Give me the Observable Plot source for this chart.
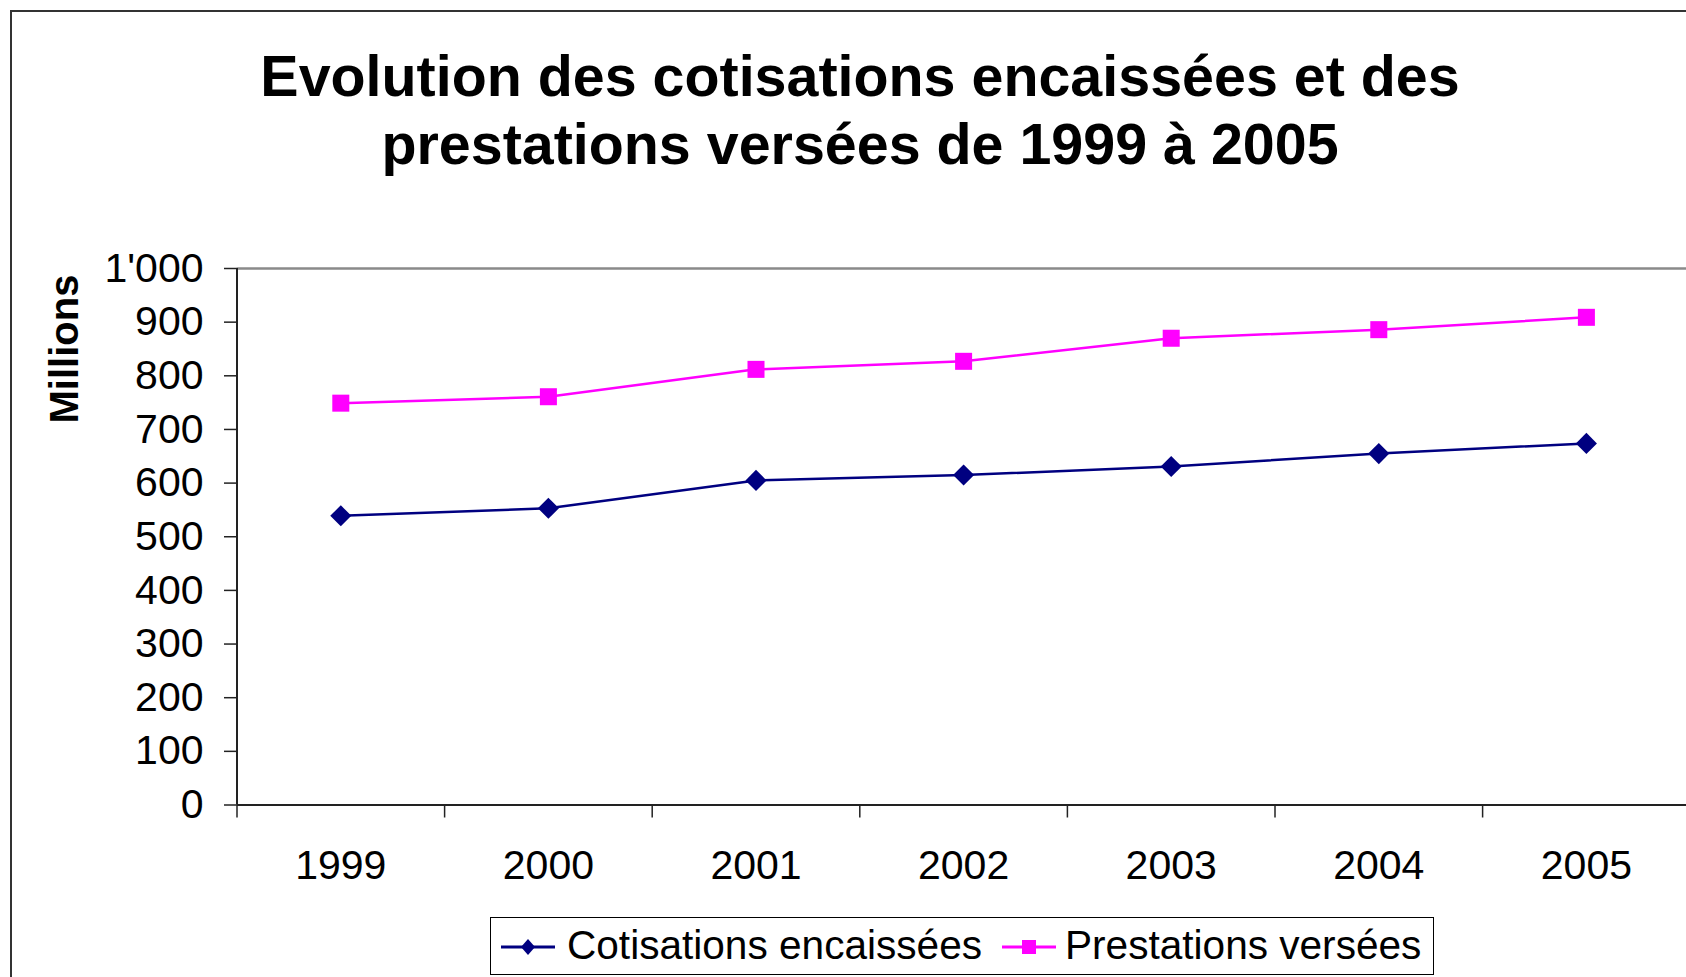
<!DOCTYPE html>
<html>
<head>
<meta charset="utf-8">
<script src="https://cdn.jsdelivr.net/npm/d3@7"></script>
<script src="https://cdn.jsdelivr.net/npm/@observablehq/plot@0.6"></script>
<style>
  html, body { margin: 0; padding: 0; background: #fff; overflow: hidden; }
  body { width: 1686px; height: 977px; position: relative; font-family: "Liberation Sans", Arial, sans-serif; }
  #frame { position: absolute; left: 10px; top: 10px; width: 1800px; height: 1100px; border-left: 2px solid #333; border-top: 2px solid #333; box-sizing: border-box; z-index: 5; pointer-events: none; }
  #chart { position: absolute; left: 0; top: 0; }
  #chart svg { overflow: hidden; }
  #title { position: absolute; left: 0; top: 42px; width: 1720px; text-align: center; font-weight: bold; font-size: 57.4px; line-height: 68px; color: #000; }
  #ylabel { position: absolute; left: 64px; top: 349px; transform: translate(-50%, -50%) rotate(-90deg); font-weight: bold; font-size: 40px; white-space: nowrap; color: #000; }
  #legend { position: absolute; left: 490px; top: 917px; width: 944px; height: 58px; border: 1.5px solid #000; box-sizing: border-box; background: #fff; }
  .item { position: absolute; top: 0; height: 55px; line-height: 55px; font-size: 40.6px; color: #000; white-space: nowrap; }
  .sw { position: absolute; top: 0; }
</style>
</head>
<body>
<div id="frame"></div>
<div id="chart"></div>
<div id="title">Evolution des cotisations encaissées et des<br>prestations versées de 1999 à 2005</div>
<div id="ylabel">Millions</div>
<div id="legend"></div>
<script>
const years = ["1999", "2000", "2001", "2002", "2003", "2004", "2005"];
const cotisations = [539, 553, 605, 615, 631, 655, 674];
const prestations = [749, 761, 812, 827, 870, 886, 909];
const yTicks = [0, 100, 200, 300, 400, 500, 600, 700, 800, 900, 1000];
const yTickLabels = ["0", "100", "200", "300", "400", "500", "600", "700", "800", "900", "1'000"];
const seriesNames = ["Cotisations encaissées", "Prestations versées"];
const seriesColors = ["#000080", "#ff00ff"];

const rows = years.map((year, i) => ({i, year, cot: cotisations[i], pre: prestations[i]}));
const xc = d => d.i + 0.5;

const chart = Plot.plot({
  width: 1686,
  height: 977,
  marginLeft: 236.5,
  marginTop: 268,
  marginBottom: 172.5,
  marginRight: 0,
  x: {domain: [0, years.length], range: [236.5, 236.5 + 207.6 * years.length]},
  y: {domain: [0, 1000], range: [804.5, 268]},
  style: {fontFamily: "'Liberation Sans', Arial, sans-serif", color: "#000", background: "#fff"},
  marks: [
    Plot.ruleY([1000], {stroke: "#8a8a8a", strokeWidth: 2.5}),
    Plot.axisY({ticks: yTicks, tickFormat: d => yTickLabels[yTicks.indexOf(d)], tickSize: 12.5, tickPadding: 21, stroke: "#222", strokeWidth: 1.5, fontSize: 41, label: null}),
    Plot.axisX({ticks: d3.range(years.length + 1), tickFormat: () => "", tickSize: 13, stroke: "#222", strokeWidth: 1.5, label: null}),
    Plot.axisX({ticks: years.map((_, i) => i + 0.5), tickFormat: d => years[Math.floor(d)], tickSize: 0, tickPadding: 44.5, fontSize: 41, label: null}),
    Plot.ruleX([0], {stroke: "#222", strokeWidth: 2}),
    Plot.ruleY([0], {stroke: "#222", strokeWidth: 2}),
    Plot.line(rows, {x: xc, y: "pre", stroke: seriesColors[1], strokeWidth: 2.5}),
    Plot.line(rows, {x: xc, y: "cot", stroke: seriesColors[0], strokeWidth: 2.5}),
    Plot.dot(rows, {x: xc, y: "pre", symbol: "square", r: 9.6, fill: seriesColors[1], stroke: null}),
    Plot.dot(rows, {x: xc, y: "cot", symbol: "diamond2", r: 9.5, fill: seriesColors[0], stroke: null})
  ]
});
document.getElementById("chart").appendChild(chart);

// Legend
const legend = document.getElementById("legend");
const swatch = (color, kind) => {
  const marker = kind === "square"
    ? `<rect x="20" y="22" width="14" height="14" fill="${color}"/>`
    : `<path d="M27 21 L34 29 L27 37 L20 29 Z" fill="${color}"/>`;
  return `<svg width="54" height="58" viewBox="0 0 54 58"><line x1="0" x2="54" y1="29" y2="29" stroke="${color}" stroke-width="3"/>${marker}</svg>`;
};
const items = [
  {sw: 10, tx: 76, kind: "diamond"},
  {sw: 511, tx: 574, kind: "square"}
];
items.forEach((it, k) => {
  const s = document.createElement("div");
  s.className = "sw";
  s.style.left = it.sw + "px";
  s.innerHTML = swatch(seriesColors[k], it.kind);
  legend.appendChild(s);
  const t = document.createElement("div");
  t.className = "item";
  t.style.left = it.tx + "px";
  t.textContent = seriesNames[k];
  legend.appendChild(t);
});
</script>
</body>
</html>
